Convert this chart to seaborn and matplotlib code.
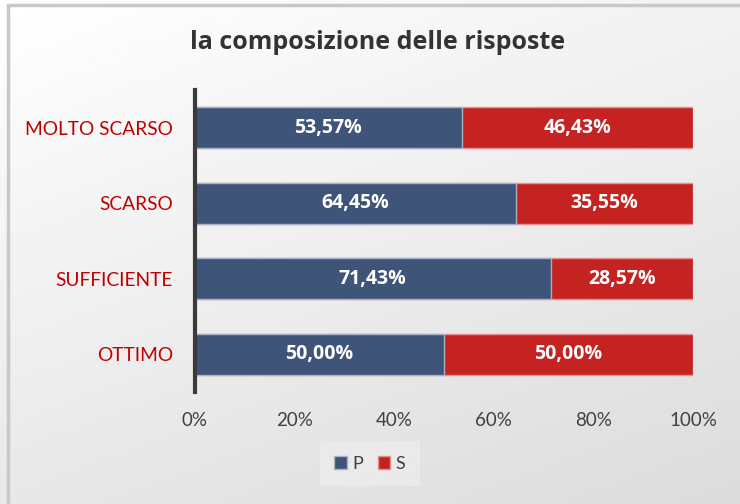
import numpy as np
import pandas as pd
import seaborn as sns
import matplotlib.pyplot as plt
from matplotlib.patches import Rectangle

categories = ['MOLTO SCARSO', 'SCARSO', 'SUFFICIENTE', 'OTTIMO']
p_values = [53.57, 64.45, 71.43, 50.00]
s_values = [46.43, 35.55, 28.57, 50.00]
x_ticks = [0, 20, 40, 60, 80, 100]

df = pd.DataFrame({'Categoria': categories, 'P': p_values, 'S': s_values})
df['Totale'] = df['P'] + df['S']

sns.set_style("white")
plt.rcParams['font.family'] = ['Lato', 'DejaVu Sans']

blue = '#3F5479'
red = '#C52222'

fig = plt.figure(figsize=(7.4, 5.04), dpi=100)

# gradient background with light frame
bg = fig.add_axes([0, 0, 1, 1], zorder=-10)
yy, xx = np.mgrid[0:1:200j, 0:1:200j]
grad = 1.0 - 0.14 * (0.35 * xx + 0.65 * yy)
bg.imshow(grad, cmap='gray', vmin=0, vmax=1, extent=[0, 1, 0, 1],
          aspect='auto', origin='upper')
bg.add_patch(Rectangle((0.011, -0.1), 1.2, 1.09, fill=False,
                       edgecolor='#C8C8C8', linewidth=2.5,
                       transform=bg.transAxes))
bg.set_xlim(0, 1)
bg.set_ylim(0, 1)
bg.axis('off')

ax = fig.add_axes([0.2635, 0.222, 0.673, 0.60])
ax.patch.set_alpha(0)

sns.barplot(data=df, y='Categoria', x='Totale', color=red, orient='h',
            width=0.54, saturation=1, edgecolor='#E98E8E', linewidth=1, ax=ax)
sns.barplot(data=df, y='Categoria', x='P', color=blue, orient='h',
            width=0.54, saturation=1, edgecolor='#A7B2C6', linewidth=1, ax=ax)

for i in range(len(categories)):
    p, s = df['P'][i], df['S'][i]
    ax.text(p / 2, i, f"{p:.2f}%".replace('.', ','), ha='center', va='center',
            color='white', fontsize=14, fontweight='bold', family='Open Sans')
    ax.text(p + s / 2, i, f"{s:.2f}%".replace('.', ','), ha='center', va='center',
            color='white', fontsize=14, fontweight='bold', family='Open Sans')

ax.set_xlim(0, 100)
ax.set_ylim(3.5, -0.5)
ax.set_xticks(x_ticks)
ax.set_xticklabels([f"{t}%" for t in x_ticks], fontsize=13.5, color='#404040')
ax.tick_params(axis='x', length=0, pad=14)
ax.tick_params(axis='y', length=0, pad=16, labelsize=13.8, labelcolor='#C00000')
ax.set_xlabel('')
ax.set_ylabel('')
for side in ['top', 'right', 'bottom']:
    ax.spines[side].set_visible(False)
ax.spines['left'].set_color('#3A3A3A')
ax.spines['left'].set_linewidth(3)

fig.text(0.51, 0.915, 'la composizione delle risposte', ha='center', va='center',
         fontsize=18, fontweight='bold', color='#333333', family='Open Sans')

handles = [Rectangle((0, 0), 1, 1, facecolor=blue, edgecolor='#A7B2C6'),
           Rectangle((0, 0), 1, 1, facecolor=red, edgecolor='#E98E8E')]
leg = fig.legend(handles, ['P', 'S'], loc='center', bbox_to_anchor=(0.5, 0.08),
                 ncol=2, frameon=True, fontsize=13, handlelength=0.7,
                 handleheight=0.7, handletextpad=0.3, columnspacing=0.8,
                 labelcolor='#404040', fancybox=False, borderpad=0.8)
leg.get_frame().set_facecolor('#ECECEC')
leg.get_frame().set_edgecolor('none')
leg.get_frame().set_alpha(0.8)

fig.savefig('out.png', dpi=100)
